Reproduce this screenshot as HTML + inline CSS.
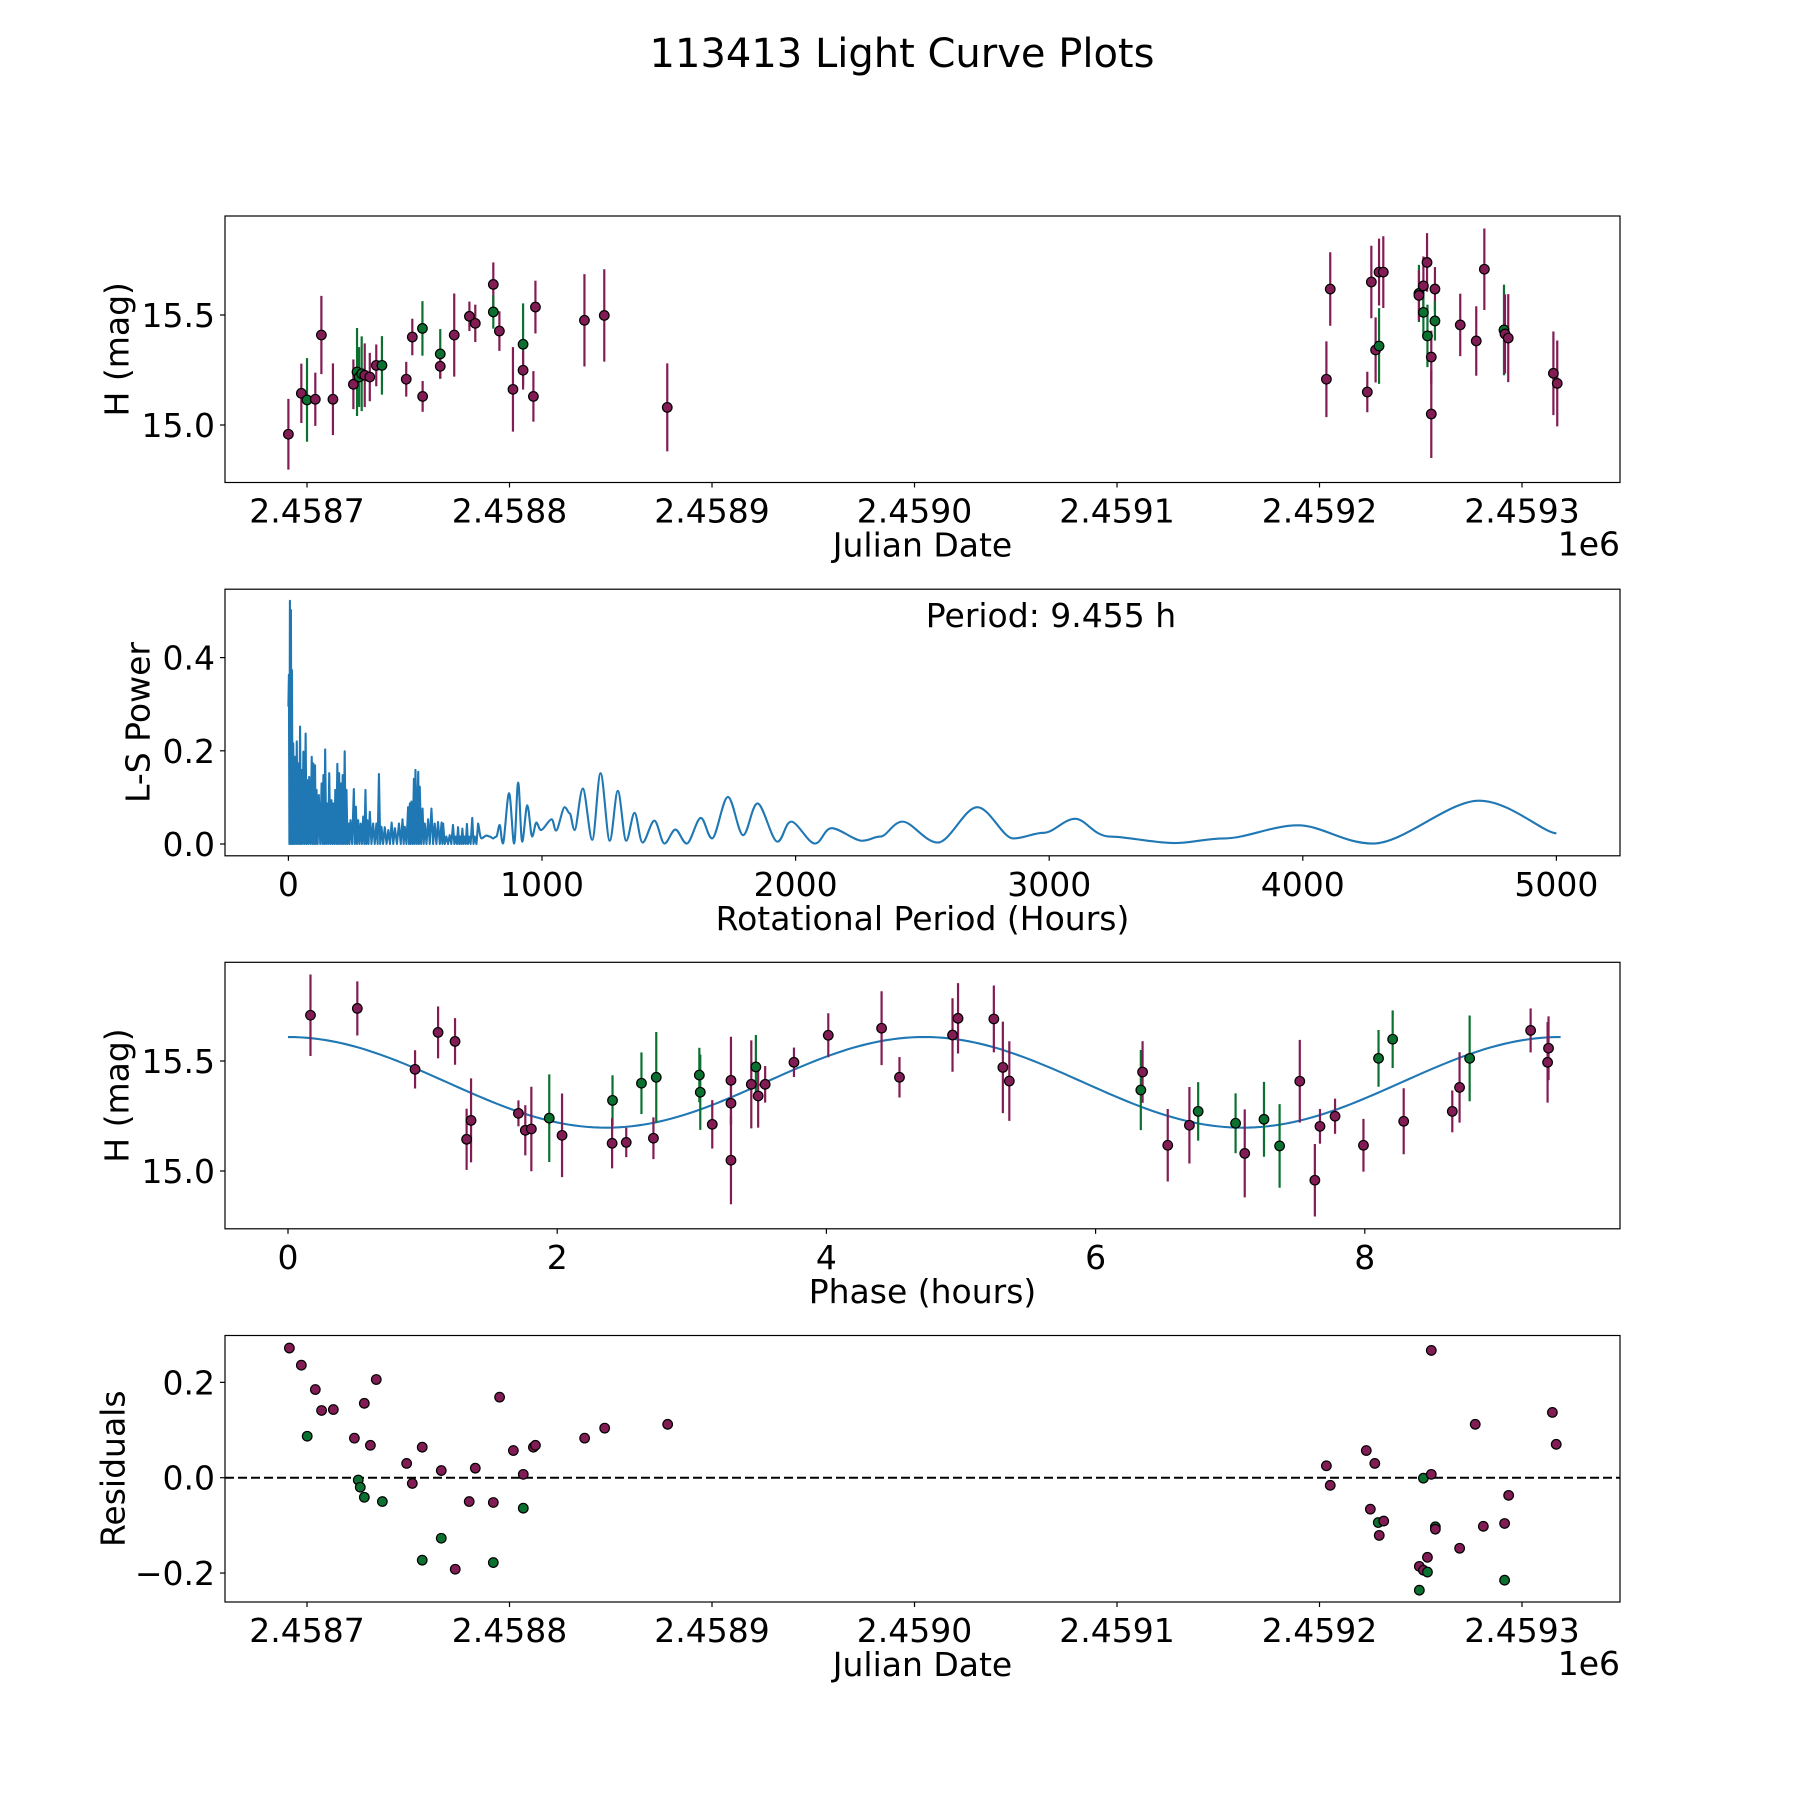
<!DOCTYPE html>
<html><head><meta charset="utf-8">
<style>
html,body{margin:0;padding:0;background:#fff;}
svg{display:block;font-family:"DejaVu Sans","Liberation Sans",sans-serif;}
</style></head>
<body>
<svg id="fig" width="1800" height="1800" viewBox="0 0 1800 1800" xmlns="http://www.w3.org/2000/svg">
<rect x="0" y="0" width="1800" height="1800" fill="#fff"/>
<text x="902" y="67" font-size="40" text-anchor="middle">113413 Light Curve Plots</text>
<g id="ax1"></g>
<g id="ax2"></g>
<g id="ax3"></g>
<g id="ax4"></g>
</svg>
<script>
// ---------- data ----------
const obsJD = [2458690.8,2458697.2,2458700.0,2458704.1,2458707.1,2458712.8,2458722.9,2458724.7,2458725.7,2458727.0,2458728.5,2458731.0,2458734.2,2458737.0,2458749.0,2458752.0,2458757.1,2458757.0,2458765.8,2458765.8,2458772.7,2458780.2,2458783.1,2458792.0,2458792.0,2458795.0,2458801.7,2458806.7,2458806.7,2458811.8,2458812.8,2458837.0,2458846.8,2458877.9,
2459203.4,2459205.3,2459223.6,2459225.6,2459227.7,2459229.4,2459229.4,2459231.5,2459249.1,2459249.1,2459251.3,2459251.3,2459253.1,2459253.3,2459255.2,2459255.2,2459257.0,2459257.0,2459269.5,2459277.4,2459281.4,2459291.1,2459291.6,2459293.2,2459315.5,2459317.4];
const obsMag = [14.958,15.144,15.114,15.117,15.409,15.117,15.185,15.241,15.218,15.233,15.226,15.218,15.271,15.271,15.208,15.400,15.130,15.439,15.323,15.267,15.409,15.494,15.462,15.639,15.514,15.427,15.162,15.367,15.249,15.130,15.536,15.476,15.498,15.080,
15.208,15.618,15.150,15.650,15.341,15.359,15.695,15.695,15.598,15.589,15.632,15.512,15.739,15.405,15.050,15.309,15.618,15.473,15.455,15.382,15.708,15.432,15.414,15.395,15.235,15.189];
const obsErr = [0.161,0.135,0.19,0.121,0.178,0.163,0.113,0.2,0.136,0.17,0.145,0.11,0.095,0.133,0.079,0.083,0.07,0.124,0.113,0.056,0.189,0.067,0.085,0.1,0.076,0.09,0.192,0.186,0.088,0.115,0.12,0.21,0.21,0.2,
0.172,0.167,0.092,0.165,0.148,0.172,0.152,0.163,0.13,0.114,0.134,0.108,0.133,0.142,0.2,0.12,0.1,0.089,0.142,0.158,0.185,0.206,0.18,0.2,0.19,0.195];
const obsBand = [0,0,1,0,0,0,0,1,1,1,0,0,0,1,0,0,0,1,1,0,0,0,0,0,1,0,0,1,0,0,0,0,0,0,
0,0,0,0,0,1,0,0,1,0,0,1,0,1,0,0,0,1,0,0,0,1,0,0,0,0];

const lsPeriod = [0,2,6,10,14,19,26,33,39,46,52,59,68,75,82,92,98,105,111,120,131,138,145,153,161,170,177,185,193,200,208,214,222,229,237,245,258,266,275,285,295,304,311,321,334,347,357,367,380,394,407,420,436,450,459,472,479,485,495,501,512,518,529,538,551,564,577,590,604,610,623,636,649,660,669,678,686,695,704,712,725,735,748];
const lsPower = [0.295,0.363,0.522,0.502,0.373,0.216,0.187,0.220,0.173,0.252,0.159,0.198,0.237,0.137,0.144,0.187,0.173,0.169,0.116,0.105,0.130,0.148,0.203,0.087,0.152,0.094,0.087,0.116,0.172,0.152,0.130,0.148,0.199,0.116,0.044,0.051,0.118,0.080,0.051,0.044,0.059,0.116,0.051,0.069,0.044,0.044,0.150,0.037,0.036,0.030,0.046,0.034,0.044,0.053,0.037,0.079,0.087,0.091,0.140,0.159,0.155,0.123,0.076,0.044,0.053,0.076,0.044,0.047,0.046,0.044,0.016,0.019,0.041,0.016,0.036,0.016,0.033,0.016,0.043,0.016,0.056,0.016,0.044];
const lsSmoothPeriod = [748,761,781,794,807,820,833,846,870,890,906,922,942,961,978,997,1037,1056,1089,1109,1129,1161,1198,1231,1267,1299,1332,1365,1397,1443,1483,1526,1571,1626,1671,1733,1793,1850,1928,1983,2076,2143,2262,2334,2422,2560,2716,2859,2978,3102,3240,3491,3693,3980,4278,4695,5000];
const lsSmoothPower = [0.044,0.012,0.018,0.016,0.012,0.016,0.041,0.001,0.109,0.001,0.132,0.005,0.083,0.016,0.046,0.030,0.053,0.029,0.079,0.066,0.030,0.119,0.009,0.152,0.007,0.114,0.007,0.067,0.003,0.050,0.001,0.031,0.001,0.056,0.012,0.101,0.019,0.087,0.005,0.048,0.001,0.034,0.007,0.016,0.048,0.003,0.079,0.012,0.024,0.054,0.016,0.002,0.012,0.040,0.001,0.093,0.023];
const bestPeriodLabel = ["Period: 9.455 h"];

const phaseVal = [0.167,0.515,0.944,1.115,1.241,1.327,1.360,1.712,1.763,1.808,1.941,2.036,2.411,2.408,2.513,2.626,2.736,2.715,3.056,3.063,3.152,3.291,3.291,3.291,3.442,3.476,3.493,3.545,3.759,4.014,4.410,4.543,
4.937,4.978,5.244,5.311,5.359,6.336,6.349,6.536,6.697,6.762,7.040,7.108,7.251,7.367,7.517,7.629,7.667,7.779,7.990,8.102,8.207,8.289,8.650,8.704,8.779,9.232,9.365,9.358];
const phaseMag = [15.708,15.739,15.462,15.630,15.589,15.144,15.230,15.262,15.185,15.191,15.240,15.162,15.321,15.126,15.130,15.399,15.426,15.149,15.436,15.358,15.212,15.412,15.308,15.049,15.394,15.473,15.341,15.394,15.494,15.617,15.649,15.426,
15.618,15.694,15.691,15.471,15.409,15.368,15.450,15.117,15.208,15.271,15.217,15.080,15.235,15.114,15.408,14.958,15.203,15.249,15.117,15.512,15.599,15.226,15.271,15.380,15.512,15.639,15.558,15.494];
const phaseErr = [0.185,0.123,0.087,0.118,0.106,0.139,0.191,0.059,0.114,0.192,0.199,0.19,0.114,0.114,0.067,0.14,0.206,0.095,0.124,0.171,0.11,0.198,0.1,0.2,0.2,0.145,0.144,0.083,0.067,0.1,0.168,0.092,
0.167,0.16,0.152,0.208,0.181,0.182,0.14,0.165,0.174,0.133,0.136,0.2,0.17,0.19,0.188,0.165,0.079,0.08,0.12,0.129,0.131,0.15,0.095,0.16,0.195,0.1,0.145,0.183];
const phaseBand = [0,0,0,0,0,0,0,0,0,0,1,0,1,0,0,1,1,0,1,1,0,0,0,0,0,1,0,0,0,0,0,0,
0,0,0,0,0,1,0,0,0,1,1,0,1,1,0,0,0,0,0,1,1,0,0,0,1,0,0,0];
const fitPeriod = [9.455];
const fitMean = [15.403];
const fitAmp = [0.206];

const resJD = [2458691.3,2458697.2,2458700.1,2458704.1,2458707.2,2458713.0,2458723.4,2458725.3,2458726.3,2458728.3,2458728.3,2458731.3,2458734.2,2458737.2,2458749.2,2458752.0,2458756.9,2458756.9,2458766.3,2458766.3,2458773.2,2458780.1,2458783.1,2458792.0,2458792.0,2458795.1,2458801.9,2458806.8,2458806.8,2458811.8,2458812.8,2458837.1,2458847.0,2458878.1,
2459203.4,2459205.3,2459223.1,2459225.1,2459227.3,2459229.0,2459231.7,2459229.5,2459249.3,2459249.3,2459251.3,2459251.3,2459253.3,2459253.3,2459255.2,2459255.2,2459257.2,2459257.2,2459269.2,2459276.9,2459280.9,2459291.4,2459291.4,2459293.4,2459315.0,2459316.9];
const resVal = [0.272,0.236,0.087,0.185,0.141,0.143,0.083,-0.005,-0.020,0.156,-0.041,0.068,0.206,-0.050,0.030,-0.012,0.064,-0.173,0.015,-0.127,-0.192,-0.050,0.020,-0.052,-0.178,0.169,0.057,0.007,-0.064,0.064,0.068,0.083,0.104,0.112,
0.025,-0.016,0.057,-0.066,0.030,-0.094,-0.091,-0.121,-0.186,-0.236,-0.001,-0.194,-0.198,-0.167,0.267,0.007,-0.103,-0.108,-0.148,0.112,-0.102,-0.096,-0.215,-0.037,0.137,0.070];
const resBand = [0,0,1,0,0,0,0,1,1,0,1,0,0,1,0,0,0,1,0,1,0,0,0,0,1,0,0,0,1,0,0,0,0,0,
0,0,0,0,0,1,0,0,0,1,1,0,1,0,0,0,1,0,0,0,0,0,1,0,0,0];

const jdTicks = [2458700,2458800,2458900,2459000,2459100,2459200,2459300];
const jdTickLabels = ["2.4587","2.4588","2.4589","2.4590","2.4591","2.4592","2.4593"];
const magTicks = [15.0,15.5];
const magTickLabels = ["15.0","15.5"];
const lsXTicks = [0,1000,2000,3000,4000,5000];
const lsXTickLabels = ["0","1000","2000","3000","4000","5000"];
const lsYTicks = [0,0.2,0.4];
const lsYTickLabels = ["0.0","0.2","0.4"];
const phTicks = [0,2,4,6,8];
const phTickLabels = ["0","2","4","6","8"];
const resTicks = [-0.2,0,0.2];
const resTickLabels = ["\u22120.2","0.0","0.2"];

// ---------- layout ----------
const NS = "http://www.w3.org/2000/svg";
const L = 225, R = 1620;
const panels = [[216,482.5],[589.2,855.8],[962.3,1228.8],[1335.5,1602]];
const COL = ["#821c54","#0b7030"];

const xJD = jd => 225 + (jd - 2458659.5) * 2.025;
const yMag1 = m => 425 - (m - 15) * 220;
const xLS = p => 288.4 + p * 0.2536;
const yLS = v => 844 - v * 466;
const xPh = p => 288 + p * 134.6;
const yMag3 = m => 1171 - (m - 15) * 220;
const yRes = r => 1477.7 - r * 476.7;

function mk(parent, tag, attrs) {
  const e = document.createElementNS(NS, tag);
  for (const k in attrs) e.setAttribute(k, attrs[k]);
  parent.appendChild(e);
  return e;
}
function frame(g, i) {
  const [t, b] = panels[i];
  const r = mk(g, "rect", {x: L, y: t, width: R - L, height: b - t, fill: "none", stroke: "#000", "stroke-width": 1.2});
  
  
}
function xTicks(g, i, vals, labels, fx, name) {
  const b = panels[i][1];
  vals.forEach((v, k) => {
    const x = fx(v);
    const tk = mk(g, "line", {x1: x, x2: x, y1: b, y2: b + 5, stroke: "#000", "stroke-width": 1.2});
    
    
    const t = mk(g, "text", {x: x, y: b + 40, "font-size": 33, "text-anchor": "middle"});
    t.textContent = labels[k];
    
    
  });
}
function yTicks(g, vals, labels, fy, name) {
  vals.forEach((v, k) => {
    const y = fy(v);
    const tk = mk(g, "line", {x1: L - 5, x2: L, y1: y, y2: y, stroke: "#000", "stroke-width": 1.2});
    
    
    const t = mk(g, "text", {x: L - 10, y: y + 12, "font-size": 33, "text-anchor": "end"});
    t.textContent = labels[k];
    
    
  });
}
function xLabel(g, i, txt, name) {
  const t = mk(g, "text", {x: (L + R) / 2, y: panels[i][1] + 74, "font-size": 33, "text-anchor": "middle"});
  t.textContent = txt;
  
  
}
function yLabel(g, i, txt, cx, name) {
  const cy = (panels[i][0] + panels[i][1]) / 2;
  const t = mk(g, "text", {x: cx, y: cy, "font-size": 33, "text-anchor": "middle", "dominant-baseline": "central", transform: `rotate(-90 ${cx} ${cy})`});
  t.textContent = txt;
  
  
}
function offsetText(g, i) {
  const t = mk(g, "text", {x: R, y: panels[i][1] + 73, "font-size": 33, "text-anchor": "end"});
  t.textContent = "1e6";
  
  
}
function errPoints(g, xs, ys, es, bands, fx, fy) {
  xs.forEach((xv, k) => {
    const x = fx(xv);
    const l = mk(g, "line", {x1: x, x2: x, y1: fy(ys[k] + es[k]), y2: fy(ys[k] - es[k]), stroke: COL[bands[k]], "stroke-width": 2.2});
    
    
  });
  xs.forEach((xv, k) => {
    const c = mk(g, "circle", {cx: fx(xv), cy: fy(ys[k]), r: 4.8, fill: COL[bands[k]], stroke: "#000", "stroke-width": 1.2});
    
    
  });
}

// ---------- panel 1 ----------
const g1 = document.getElementById("ax1");
errPoints(g1, obsJD, obsMag, obsErr, obsBand, xJD, yMag1);
frame(g1, 0);
xTicks(g1, 0, jdTicks, jdTickLabels, xJD, "x-axis");
yTicks(g1, magTicks, magTickLabels, yMag1, "y-axis");
xLabel(g1, 0, "Julian Date", "x-axis-title");
yLabel(g1, 0, "H (mag)", 117, "y-axis-title");
offsetText(g1, 0);

// ---------- panel 2 ----------
const g2 = document.getElementById("ax2");
let d = "";
lsPeriod.forEach((p, k) => {
  d += (k ? "L" : "M") + xLS(p).toFixed(2) + " " + yLS(lsPower[k]).toFixed(2) + " ";
  if (k < lsPeriod.length - 1 && k > 0) {
    const mid = (p + lsPeriod[k + 1]) / 2;
    d += "L" + xLS(mid).toFixed(2) + " " + yLS(0).toFixed(2) + " ";
  }
});
const sp = lsSmoothPeriod.map(xLS), sv = lsSmoothPower.map(yLS);
for (let k = 0; k < sp.length - 1; k++) {
  const x0 = sp[Math.max(k - 1, 0)], y0 = sv[Math.max(k - 1, 0)];
  const x1 = sp[k], y1 = sv[k], x2 = sp[k + 1], y2 = sv[k + 1];
  const x3 = sp[Math.min(k + 2, sp.length - 1)], y3 = sv[Math.min(k + 2, sp.length - 1)];
  const c1x = x1 + (x2 - x0) / 6, c1y = y1;
  const c2x = x2 - (x3 - x1) / 6, c2y = y2;
  d += `C${c1x.toFixed(2)} ${c1y.toFixed(2)} ${c2x.toFixed(2)} ${c2y.toFixed(2)} ${x2.toFixed(2)} ${y2.toFixed(2)} `;
}
const ls = mk(g2, "path", {d: d, fill: "none", stroke: "#1f77b4", "stroke-width": 2.1, "stroke-linejoin": "round"});


frame(g2, 1);
xTicks(g2, 1, lsXTicks, lsXTickLabels, xLS, "x-axis");
yTicks(g2, lsYTicks, lsYTickLabels, yLS, "y-axis");
xLabel(g2, 1, "Rotational Period (Hours)", "x-axis-title");
yLabel(g2, 1, "L-S Power", 138, "y-axis-title");
const pt = mk(g2, "text", {x: 1051, y: 627, "font-size": 33, "text-anchor": "middle"});
pt.textContent = bestPeriodLabel[0];



// ---------- panel 3 ----------
const g3 = document.getElementById("ax3");
let fd = "";
for (let k = 0; k <= 200; k++) {
  const ph = fitPeriod[0] * k / 200;
  const m = fitMean[0] + fitAmp[0] * Math.cos(4 * Math.PI * ph / fitPeriod[0]);
  fd += (k ? "L" : "M") + xPh(ph).toFixed(2) + " " + yMag3(m).toFixed(2) + " ";
}
const fit = mk(g3, "path", {d: fd, fill: "none", stroke: "#1f77b4", "stroke-width": 2.1});


errPoints(g3, phaseVal, phaseMag, phaseErr, phaseBand, xPh, yMag3);
frame(g3, 2);
xTicks(g3, 2, phTicks, phTickLabels, xPh, "x-axis");
yTicks(g3, magTicks, magTickLabels, yMag3, "y-axis");
xLabel(g3, 2, "Phase (hours)", "x-axis-title");
yLabel(g3, 2, "H (mag)", 117, "y-axis-title");

// ---------- panel 4 ----------
const g4 = document.getElementById("ax4");
const zl = mk(g4, "line", {x1: L, x2: R, y1: yRes(0), y2: yRes(0), stroke: "#000", "stroke-width": 2, "stroke-dasharray": "9 4"});


resJD.forEach((jd, k) => {
  const c = mk(g4, "circle", {cx: xJD(jd), cy: yRes(resVal[k]), r: 4.8, fill: COL[resBand[k]], stroke: "#000", "stroke-width": 1.2});
  
  
});
frame(g4, 3);
xTicks(g4, 3, jdTicks, jdTickLabels, xJD, "x-axis");
yTicks(g4, resTicks, resTickLabels, yRes, "y-axis");
xLabel(g4, 3, "Julian Date", "x-axis-title");
yLabel(g4, 3, "Residuals", 113, "y-axis-title");
offsetText(g4, 3);
</script>
</body></html>
